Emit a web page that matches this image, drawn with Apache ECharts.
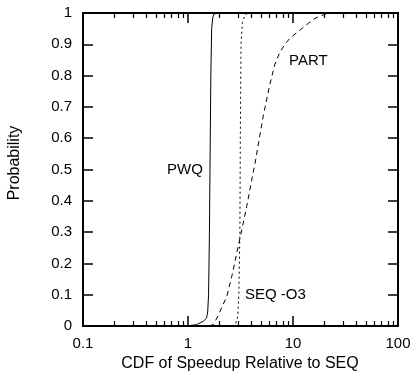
<!DOCTYPE html>
<html>
<head>
<meta charset="utf-8">
<script src="https://cdn.jsdelivr.net/npm/echarts@6/dist/echarts.min.js"></script>
<style>
  html, body { margin: 0; padding: 0; background: #fff; }
  #chart { width: 414px; height: 379px; }
</style>
</head>
<body>
<div id="chart"></div>
<script>
// CDF curves
const pwqSpeedup = [0.95, 1.2, 1.4, 1.5, 1.54, 1.57, 1.6, 1.62, 1.65, 1.68, 1.72, 1.76, 1.88];
const pwqProb    = [0, 0.004, 0.015, 0.025, 0.045, 0.1, 0.3, 0.5, 0.8, 0.95, 0.985, 0.995, 1.0];

const seqSpeedup = [2.6, 2.85, 2.98, 3.05, 3.12, 3.15, 3.2, 3.3, 3.5, 3.8];
const seqProb    = [0, 0.008, 0.03, 0.1, 0.3, 0.6, 0.9, 0.97, 0.995, 1.0];

const partSpeedup = [1.6, 1.75, 1.95, 2.1, 2.34, 2.61, 2.91, 3.25, 3.62, 4.04, 4.35, 5.2, 6.0, 6.7, 7.5, 8.5, 9.4, 11.7, 14, 16.2, 19.4, 22];
const partProb    = [0, 0.005, 0.035, 0.06, 0.094, 0.158, 0.232, 0.307, 0.381, 0.466, 0.52, 0.67, 0.77, 0.835, 0.875, 0.903, 0.92, 0.946, 0.967, 0.983, 0.994, 1.0];

const zip = (xs, ys) => xs.map((x, i) => [x, ys[i]]);

const font = '"Liberation Sans", Arial, sans-serif';
const black = '#000';

// log x axis, mirrored on top without labels
const logAxis = (pos, labels) => ({
  type: 'log',
  logBase: 10,
  min: 0.1,
  max: 100,
  position: pos,
  axisLine: { show: true, onZero: false, lineStyle: { color: black, width: 2 } },
  axisTick: { show: true, inside: true, length: 10, lineStyle: { color: black, width: 1.5 } },
  minorTick: { show: true, splitNumber: 9, length: 5, lineStyle: { color: black, width: 1.2 } },
  axisLabel: { show: labels, color: black, fontSize: 15, fontFamily: font, margin: 10 },
  splitLine: { show: false }
});

const probAxis = (pos, labels) => ({
  type: 'value',
  min: 0,
  max: 1,
  interval: 0.1,
  position: pos,
  axisLine: { show: true, onZero: false, lineStyle: { color: black, width: 2 } },
  axisTick: { show: true, inside: true, length: 10, lineStyle: { color: black, width: 1.5 } },
  axisLabel: { show: labels, color: black, fontSize: 15, fontFamily: font, margin: 11 },
  splitLine: { show: false }
});

const curve = (name, data, type) => ({
  name,
  type: 'line',
  data,
  showSymbol: false,
  symbol: 'none',
  lineStyle: { color: black, width: 1, type }
});

const chart = echarts.init(document.getElementById('chart'));

chart.setOption({
  animation: false,
  grid: { left: 83, right: 16, top: 13, bottom: 53 },
  xAxis: [logAxis('bottom', true), logAxis('top', false)],
  yAxis: [probAxis('left', true), probAxis('right', false)],
  series: [
    curve('PWQ', zip(pwqSpeedup, pwqProb), 'solid'),
    curve('SEQ -O3', zip(seqSpeedup, seqProb), [2, 3]),
    curve('PART', zip(partSpeedup, partProb), [5, 4])
  ],
  graphic: [
    { type: 'text', left: 167, top: 162, style: { text: 'PWQ', fill: black, font: '15px ' + font } },
    { type: 'text', left: 289, top: 53, style: { text: 'PART', fill: black, font: '15px ' + font } },
    { type: 'text', left: 245, top: 287, style: { text: 'SEQ -O3', fill: black, font: '15px ' + font } },
    {
      type: 'text', x: 15, y: 163, rotation: Math.PI / 2,
      style: { text: 'Probability', fill: black, font: '16px ' + font, align: 'center', verticalAlign: 'middle' }
    },
    {
      type: 'text', x: 240, y: 364,
      style: { text: 'CDF of Speedup Relative to SEQ', fill: black, font: '16px ' + font, align: 'center', verticalAlign: 'middle' }
    }
  ]
});
</script>
</body>
</html>
